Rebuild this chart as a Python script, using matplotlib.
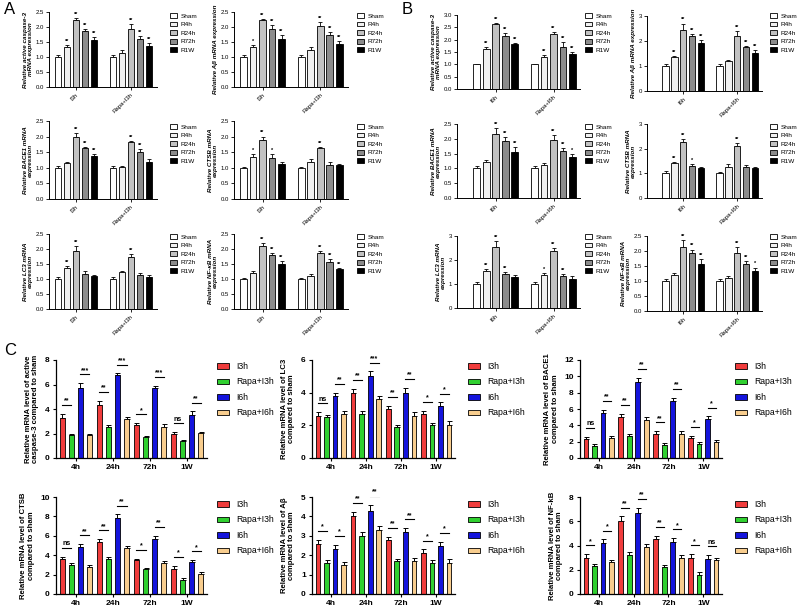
import numpy as np
import matplotlib.pyplot as plt

plt.rcParams['font.family'] = ['Liberation Sans', 'DejaVu Sans']

# ==========================================
# data: panels A / B (time course, grayscale bars)
# ==========================================
times = ['Sham', 'R4h', 'R24h', 'R72h', 'R1W']
gray_fill = ['#ffffff', '#f0f0f0', '#c2c2c2', '#8c8c8c', '#000000']

a_groups = ['I3h', 'Rapa+I3h']
b_groups = ['I6h', 'Rapa+I6h']

a_casp_mean = [[1.00, 1.33, 2.22, 1.87, 1.57], [1.00, 1.12, 1.95, 1.60, 1.37]]
a_casp_err = [[0.08, 0.06, 0.07, 0.07, 0.08], [0.08, 0.10, 0.15, 0.10, 0.10]]
a_casp_sig = [['', '**', '**', '**', '**'], ['', '', '**', '**', '**']]

a_abeta_mean = [[1.00, 1.33, 2.22, 1.95, 1.60], [1.00, 1.22, 2.05, 1.75, 1.43]]
a_abeta_err = [[0.07, 0.06, 0.06, 0.12, 0.12], [0.07, 0.10, 0.12, 0.07, 0.10]]
a_abeta_sig = [['', '*', '**', '**', '**'], ['', '', '**', '**', '**']]

a_bace_mean = [[1.00, 1.15, 2.00, 1.62, 1.38], [1.00, 1.02, 1.82, 1.50, 1.20]]
a_bace_err = [[0.07, 0.03, 0.12, 0.05, 0.05], [0.06, 0.05, 0.03, 0.10, 0.07]]
a_bace_sig = [['', '', '**', '**', '**'], ['', '', '**', '**', '']]

a_ctsb_mean = [[1.00, 1.35, 1.88, 1.32, 1.12], [1.00, 1.18, 1.62, 1.10, 1.08]]
a_ctsb_err = [[0.04, 0.10, 0.12, 0.12, 0.05], [0.04, 0.10, 0.05, 0.08, 0.03]]
a_ctsb_sig = [['', '*', '**', '*', ''], ['', '', '**', '', '']]

a_lc3_mean = [[1.00, 1.37, 1.93, 1.18, 1.10], [1.00, 1.22, 1.72, 1.15, 1.07]]
a_lc3_err = [[0.06, 0.06, 0.18, 0.08, 0.05], [0.06, 0.05, 0.10, 0.06, 0.08]]
a_lc3_sig = [['', '**', '**', '', ''], ['', '', '**', '', '']]

a_nfkb_mean = [[1.00, 1.20, 2.10, 1.80, 1.50], [1.00, 1.10, 1.88, 1.58, 1.32]]
a_nfkb_err = [[0.02, 0.06, 0.10, 0.08, 0.10], [0.02, 0.06, 0.05, 0.08, 0.05]]
a_nfkb_sig = [['', '', '**', '**', '**'], ['', '', '**', '**', '**']]

b_casp_mean = [[1.00, 1.63, 2.62, 2.15, 1.82], [1.00, 1.30, 2.22, 1.70, 1.43]]
b_casp_err = [[0.02, 0.06, 0.04, 0.12, 0.05], [0.02, 0.08, 0.08, 0.20, 0.06]]
b_casp_sig = [['', '**', '**', '**', '**'], ['', '**', '**', '**', '**']]

b_abeta_mean = [[1.00, 1.35, 2.45, 2.18, 1.93], [1.00, 1.22, 2.20, 1.75, 1.53]]
b_abeta_err = [[0.10, 0.05, 0.25, 0.10, 0.10], [0.10, 0.03, 0.20, 0.05, 0.10]]
b_abeta_sig = [['', '**', '**', '**', '**'], ['', '', '**', '**', '**']]

b_bace_mean = [[1.00, 1.20, 2.15, 1.93, 1.57], [1.00, 1.10, 1.95, 1.60, 1.37]]
b_bace_err = [[0.08, 0.08, 0.22, 0.12, 0.15], [0.08, 0.07, 0.18, 0.08, 0.10]]
b_bace_sig = [['', '', '**', '**', '**'], ['', '', '**', '**', '*']]

b_ctsb_mean = [[1.00, 1.40, 2.28, 1.30, 1.20], [1.00, 1.27, 2.12, 1.25, 1.22]]
b_ctsb_err = [[0.08, 0.05, 0.12, 0.08, 0.06], [0.07, 0.12, 0.10, 0.07, 0.03]]
b_ctsb_sig = [['', '**', '**', '*', ''], ['', '', '**', '', '']]

b_lc3_mean = [[1.00, 1.55, 2.55, 1.43, 1.30], [1.00, 1.38, 2.37, 1.33, 1.22]]
b_lc3_err = [[0.08, 0.06, 0.25, 0.08, 0.06], [0.08, 0.08, 0.12, 0.08, 0.10]]
b_lc3_sig = [['', '**', '**', '**', ''], ['', '*', '**', '**', '']]

b_nfkb_mean = [[1.00, 1.20, 2.15, 1.93, 1.57], [1.00, 1.10, 1.95, 1.58, 1.35]]
b_nfkb_err = [[0.08, 0.08, 0.22, 0.12, 0.15], [0.08, 0.07, 0.18, 0.08, 0.10]]
b_nfkb_sig = [['', '', '**', '**', '**'], ['', '', '**', '**', '*']]

# ==========================================
# data: panel C (fold change vs sham)
# ==========================================
c_times = ['4h', '24h', '72h', '1W']
c_series = ['I3h', 'Rapa+I3h', 'I6h', 'Rapa+I6h']
c_colors = ['#f03c3c', '#30d030', '#1414dc', '#f8cd8e']

# rows = time point, columns = series
c_casp_mean = [[3.25, 1.85, 5.70, 1.90], [4.30, 2.55, 6.75, 3.15], [2.70, 1.70, 5.70, 2.55], [1.95, 1.40, 3.50, 2.05]]
c_casp_err = [[0.35, 0.15, 0.40, 0.10], [0.35, 0.15, 0.15, 0.20], [0.15, 0.12, 0.20, 0.25], [0.15, 0.08, 0.30, 0.10]]
c_casp_sig = [['**', '***'], ['**', '***'], ['*', '***'], ['ns', '**']]

c_lc3_mean = [[2.60, 2.50, 3.80, 2.70], [4.00, 2.70, 5.00, 3.60], [3.00, 1.90, 4.00, 2.60], [2.70, 2.00, 3.20, 2.00]]
c_lc3_err = [[0.20, 0.15, 0.20, 0.15], [0.25, 0.20, 0.30, 0.20], [0.20, 0.15, 0.30, 0.20], [0.20, 0.15, 0.20, 0.25]]
c_lc3_sig = [['ns', '**'], ['**', '***'], ['**', '**'], ['*', '*']]

c_bace_mean = [[2.30, 1.50, 5.50, 2.50], [5.00, 2.70, 9.30, 4.70], [3.00, 1.60, 7.00, 3.00], [2.50, 1.70, 4.80, 2.00]]
c_bace_err = [[0.30, 0.20, 0.40, 0.20], [0.40, 0.30, 0.50, 0.30], [0.30, 0.20, 0.40, 0.30], [0.20, 0.20, 0.30, 0.20]]
c_bace_sig = [['ns', '**'], ['**', '**'], ['**', '**'], ['*', '*']]

c_ctsb_mean = [[3.65, 2.95, 4.85, 2.80], [5.40, 3.65, 7.80, 4.70], [3.50, 2.55, 5.70, 3.15], [2.60, 1.45, 3.35, 2.05]]
c_ctsb_err = [[0.20, 0.20, 0.30, 0.20], [0.25, 0.15, 0.40, 0.20], [0.15, 0.10, 0.30, 0.25], [0.30, 0.15, 0.15, 0.25]]
c_ctsb_sig = [['ns', '**'], ['**', '**'], ['*', '**'], ['*', '*']]

c_abeta_mean = [[2.60, 1.60, 2.30, 1.50], [4.00, 3.00, 4.30, 3.30], [2.80, 1.70, 3.20, 1.70], [2.10, 1.60, 2.50, 1.60]]
c_abeta_err = [[0.20, 0.15, 0.25, 0.15], [0.25, 0.20, 0.30, 0.20], [0.15, 0.10, 0.20, 0.15], [0.20, 0.15, 0.20, 0.20]]
c_abeta_sig = [['*', '*'], ['**', '**'], ['**', '**'], ['*', '*']]

c_nfkb_mean = [[3.00, 2.30, 4.20, 2.60], [6.00, 3.20, 6.70, 3.90], [4.50, 2.20, 4.30, 3.00], [3.00, 1.60, 2.90, 2.80]]
c_nfkb_err = [[0.30, 0.20, 0.30, 0.20], [0.40, 0.30, 0.40, 0.20], [0.30, 0.20, 0.30, 0.20], [0.30, 0.20, 0.30, 0.20]]
c_nfkb_sig = [['*', '*'], ['**', '**'], ['**', '*'], ['*', 'ns']]

# ==========================================
# figure
# ==========================================
W, H = 800, 608
fig = plt.figure(figsize=(W / 100, H / 100), dpi=100)


def px_axes(x0, y0, x1, y1):
    return fig.add_axes([x0 / W, 1 - y1 / H, (x1 - x0) / W, (y1 - y0) / H])


def time_panel(box, means, errs, sigs, groups, ylabel, ymax, ystep, xlim, leg_xy):
    ax = px_axes(*box)
    handles = []
    for g, (m_row, e_row, s_row) in enumerate(zip(means, errs, sigs)):
        for i, (m, e, s) in enumerate(zip(m_row, e_row, s_row)):
            x = g * 6.1 + (i - 2)
            b = ax.bar(x, m, width=0.73, color=gray_fill[i], edgecolor='black', linewidth=0.6, zorder=2)
            ax.errorbar(x, m, yerr=[[0], [e]], ecolor='black', elinewidth=0.6, capsize=1.5,
                        capthick=0.6, fmt='none', zorder=1)
            if s:
                ax.text(x, m + e + ymax * 0.015, s, ha='center', va='bottom', fontsize=4, fontweight='bold')
            if g == 0:
                handles.append(b)
    ax.set_xlim(*xlim)
    ax.set_ylim(0, ymax)
    ticks = np.arange(0, ymax + ystep / 2, ystep)
    ax.set_yticks(ticks)
    if ystep < 1:
        ax.set_yticklabels([f'{t:.1f}' for t in ticks])
    else:
        ax.set_yticklabels([f'{t:.0f}' for t in ticks])
    ax.set_xticks([0, 6.1])
    ax.set_xticklabels(groups, rotation=45, ha='right', rotation_mode='anchor')
    ax.tick_params(labelsize=4.3, length=2, width=0.6, pad=1.5)
    for sp in ['top', 'right']:
        ax.spines[sp].set_visible(False)
    for sp in ['left', 'bottom']:
        ax.spines[sp].set_linewidth(0.7)
    ax.set_ylabel(ylabel, fontsize=4.5, fontstyle='italic', fontweight='bold', labelpad=2, linespacing=1.1)
    fig.legend(handles, times, loc='upper left', bbox_to_anchor=(leg_xy[0] / W, 1 - leg_xy[1] / H),
               frameon=False, fontsize=4.6, handlelength=1.15, handleheight=0.8, handletextpad=0.5,
               labelspacing=0.45, borderpad=0, borderaxespad=0)
    return ax


def fold_panel(box, means, errs, sigs, ylabel, ymax, ystep, leg_xy):
    ax = px_axes(*box)
    gap = 4.1
    handles = []
    for t, (m_row, e_row, s_pair) in enumerate(zip(means, errs, sigs)):
        xs = [t * gap + (i - 1.5) for i in range(4)]
        for i in range(4):
            b = ax.bar(xs[i], m_row[i], width=0.55, color=c_colors[i], edgecolor='black', linewidth=0.6, zorder=2)
            ax.errorbar(xs[i], m_row[i], yerr=[[0], [e_row[i]]], ecolor='black', elinewidth=0.7,
                        capsize=1.8, capthick=0.7, fmt='none', zorder=1)
            if t == 0:
                handles.append(b)
        for p, s in enumerate(s_pair):
            i0, i1 = 2 * p, 2 * p + 1
            top = max(m_row[i0] + e_row[i0], m_row[i1] + e_row[i1])
            yl = top + ymax * 0.09
            ax.plot([xs[i0], xs[i1]], [yl, yl], color='black', linewidth=0.8)
            ax.text((xs[i0] + xs[i1]) / 2, yl + ymax * 0.005, s, ha='center', va='bottom',
                    fontsize=5, fontweight='bold')
    ax.set_xlim(-2.2, 3 * gap + 2.2)
    ax.set_ylim(0, ymax)
    ax.set_yticks(np.arange(0, ymax + ystep / 2, ystep))
    ax.set_xticks([t * gap for t in range(4)])
    ax.set_xticklabels(c_times)
    ax.tick_params(labelsize=6, length=2.5, width=0.8, pad=2)
    for lab in ax.get_xticklabels() + ax.get_yticklabels():
        lab.set_fontweight('bold')
    for sp in ['top', 'right']:
        ax.spines[sp].set_visible(False)
    for sp in ['left', 'bottom']:
        ax.spines[sp].set_linewidth(0.9)
    ax.set_ylabel(ylabel, fontsize=5.6, fontweight='bold', labelpad=4, linespacing=1.05)
    fig.legend(handles, c_series, loc='upper left', bbox_to_anchor=(leg_xy[0] / W, 1 - leg_xy[1] / H),
               frameon=False, fontsize=6.2, handlelength=1.4, handleheight=0.6, handletextpad=0.8,
               labelspacing=0.75, borderpad=0, borderaxespad=0)
    return ax


xa = (-3.0, 9.0)
xb = (-4.1, 8.9)

# panel A
time_panel((49, 12, 157, 87), a_casp_mean, a_casp_err, a_casp_sig, a_groups,
           'Relative active caspase-3\nmRNA expression', 2.5, 0.5, xa, (170, 13))
time_panel((234, 12, 348, 87), a_abeta_mean, a_abeta_err, a_abeta_sig, a_groups,
           'Relative Aβ mRNA expression', 2.5, 0.5, xa, (357, 13))
time_panel((49, 121, 157, 199), a_bace_mean, a_bace_err, a_bace_sig, a_groups,
           'Relative BACE1 mRNA\nexpression', 2.5, 0.5, xa, (170, 124))
time_panel((234, 121, 348, 199), a_ctsb_mean, a_ctsb_err, a_ctsb_sig, a_groups,
           'Relative CTSB mRNA\nexpression', 2.5, 0.5, xa, (357, 124))
time_panel((49, 234, 157, 309), a_lc3_mean, a_lc3_err, a_lc3_sig, a_groups,
           'Relative LC3 mRNA\nexpression', 2.5, 0.5, xa, (170, 234))
time_panel((234, 234, 348, 309), a_nfkb_mean, a_nfkb_err, a_nfkb_sig, a_groups,
           'Relative NF-κB mRNA\nexpression', 2.5, 0.5, xa, (357, 234))

# panel B
time_panel((457, 15, 580, 89), b_casp_mean, b_casp_err, b_casp_sig, b_groups,
           'Relative active caspase-3\nmRNA expression', 3.0, 0.5, xb, (585, 13))
time_panel((647, 16, 762, 91), b_abeta_mean, b_abeta_err, b_abeta_sig, b_groups,
           'Relative Aβ mRNA expression', 3, 1, xb, (770, 13))
time_panel((457, 124, 580, 198), b_bace_mean, b_bace_err, b_bace_sig, b_groups,
           'Relative BACE1 mRNA\nexpression', 2.5, 0.5, xb, (585, 124))
time_panel((647, 124, 762, 198), b_ctsb_mean, b_ctsb_err, b_ctsb_sig, b_groups,
           'Relative CTSB mRNA\nexpression', 3, 1, xb, (770, 124))
time_panel((457, 236, 580, 308), b_lc3_mean, b_lc3_err, b_lc3_sig, b_groups,
           'Relative LC3 mRNA\nexpression', 3, 1, xb, (585, 234))
time_panel((647, 236, 762, 311), b_nfkb_mean, b_nfkb_err, b_nfkb_sig, b_groups,
           'Relative NF-κB mRNA\nexpression', 2.5, 0.5, xb, (770, 234))

# panel C
fold_panel((56, 360, 207, 458), c_casp_mean, c_casp_err, c_casp_sig,
           'Relative mRNA level of active\ncaspase-3 compared to sham', 8, 2, (217, 362))
fold_panel((312, 360, 455, 458), c_lc3_mean, c_lc3_err, c_lc3_sig,
           'Relative mRNA level of LC3\ncompared to sham', 6, 2, (468, 362))
fold_panel((580, 360, 722, 458), c_bace_mean, c_bace_err, c_bace_sig,
           'Relative mRNA level of BACE1\ncompared to sham', 12, 2, (735, 362))
fold_panel((56, 497, 207, 594), c_ctsb_mean, c_ctsb_err, c_ctsb_sig,
           'Relative mRNA level of CTSB\ncompared to sham', 10, 2, (217, 500))
fold_panel((312, 497, 455, 594), c_abeta_mean, c_abeta_err, c_abeta_sig,
           'Relative mRNA level of Aβ\ncompared to sham', 5, 1, (468, 500))
fold_panel((580, 497, 722, 594), c_nfkb_mean, c_nfkb_err, c_nfkb_sig,
           'Relative mRNA level of NF-kB\ncompared to sham', 8, 2, (735, 500))

fig.text(4 / W, 1 - 2 / H, 'A', fontsize=12, va='top')
fig.text(402 / W, 1 - 2 / H, 'B', fontsize=12, va='top')
fig.text(4 / W, 1 - 343 / H, 'C', fontsize=12, va='top')

plt.savefig('out.png', dpi=100)
